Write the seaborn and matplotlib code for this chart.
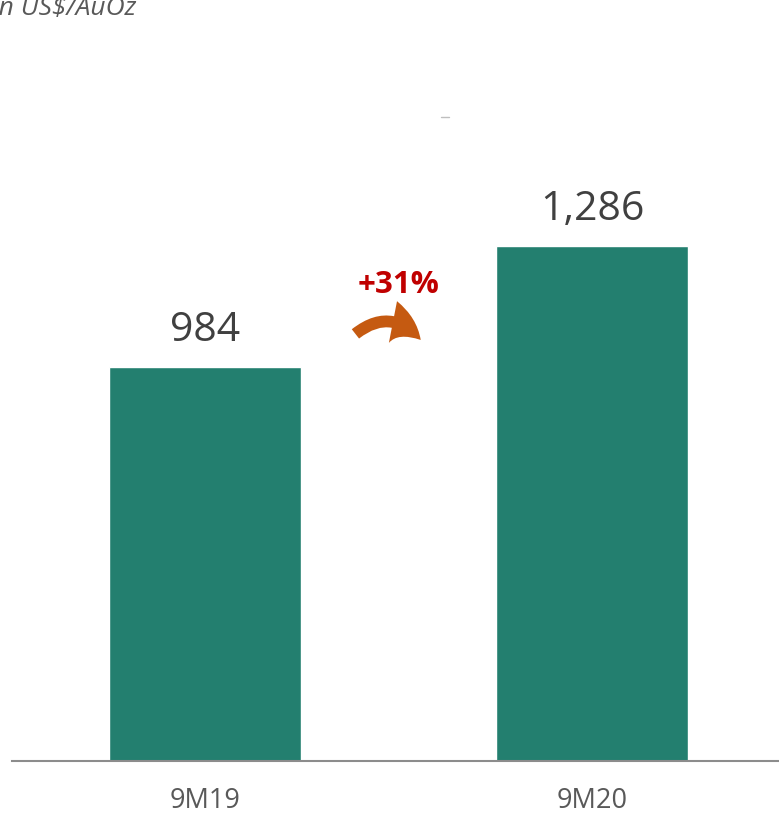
import matplotlib
matplotlib.use("Agg")
import matplotlib.pyplot as plt
import seaborn as sns
import pandas as pd
from matplotlib.patches import FancyArrowPatch

periods = ["9M19", "9M20"]
values = [984, 1286]
value_labels = ["984", "1,286"]
change_label = "+31%"
unit_label = "in US$/AuOz"

sns.set_theme(style="white")
plt.rcParams["font.family"] = ["Open Sans", "DejaVu Sans"]

df = pd.DataFrame({"period": periods, "value": values})

fig = plt.figure(figsize=(7.79, 8.13), dpi=100)
ax = fig.add_axes([12 / 779, 1 - 761 / 813, 1 - 12 / 779, 761 / 813])

sns.barplot(data=df, x="period", y="value", color="#237F6F", width=0.496,
            saturation=1, ax=ax)

ax.set_xlim(-0.4987, 1.483)
ax.set_ylim(0, 1900)
for s in ["top", "right", "left"]:
    ax.spines[s].set_visible(False)
ax.spines["bottom"].set_color("#8C8C8C")
ax.spines["bottom"].set_linewidth(1.5)
ax.set_yticks([])
ax.set_xlabel("")
ax.set_ylabel("")
ax.tick_params(axis="x", length=0, pad=19, labelsize=19.5, labelcolor="#595959")

for i, (v, lab) in enumerate(zip(values, value_labels)):
    ax.text(i, v + 40, lab, ha="center", va="bottom", fontsize=29.5,
            color="#404040")

# growth annotation between the bars
ax.text(0.5, 1169, change_label, ha="center", va="baseline", fontsize=22.5,
        fontweight="bold", color="#C00000")
arrow = FancyArrowPatch((0.383, 1062), (0.562, 1046),
                        connectionstyle="arc3,rad=-0.5",
                        arrowstyle="simple,head_width=1.8,head_length=1.4,tail_width=0.5",
                        mutation_scale=17, color="#C55A11", lw=0)
ax.add_patch(arrow)

# small mark near the top
ax.plot([0.61, 0.63], [1608, 1608], color="#BFBFBF", lw=1)

fig.text(-0.010, 0.990, unit_label, ha="left", va="center", fontsize=19,
         style="italic", color="#595959")

fig.savefig("out.png", dpi=100)
